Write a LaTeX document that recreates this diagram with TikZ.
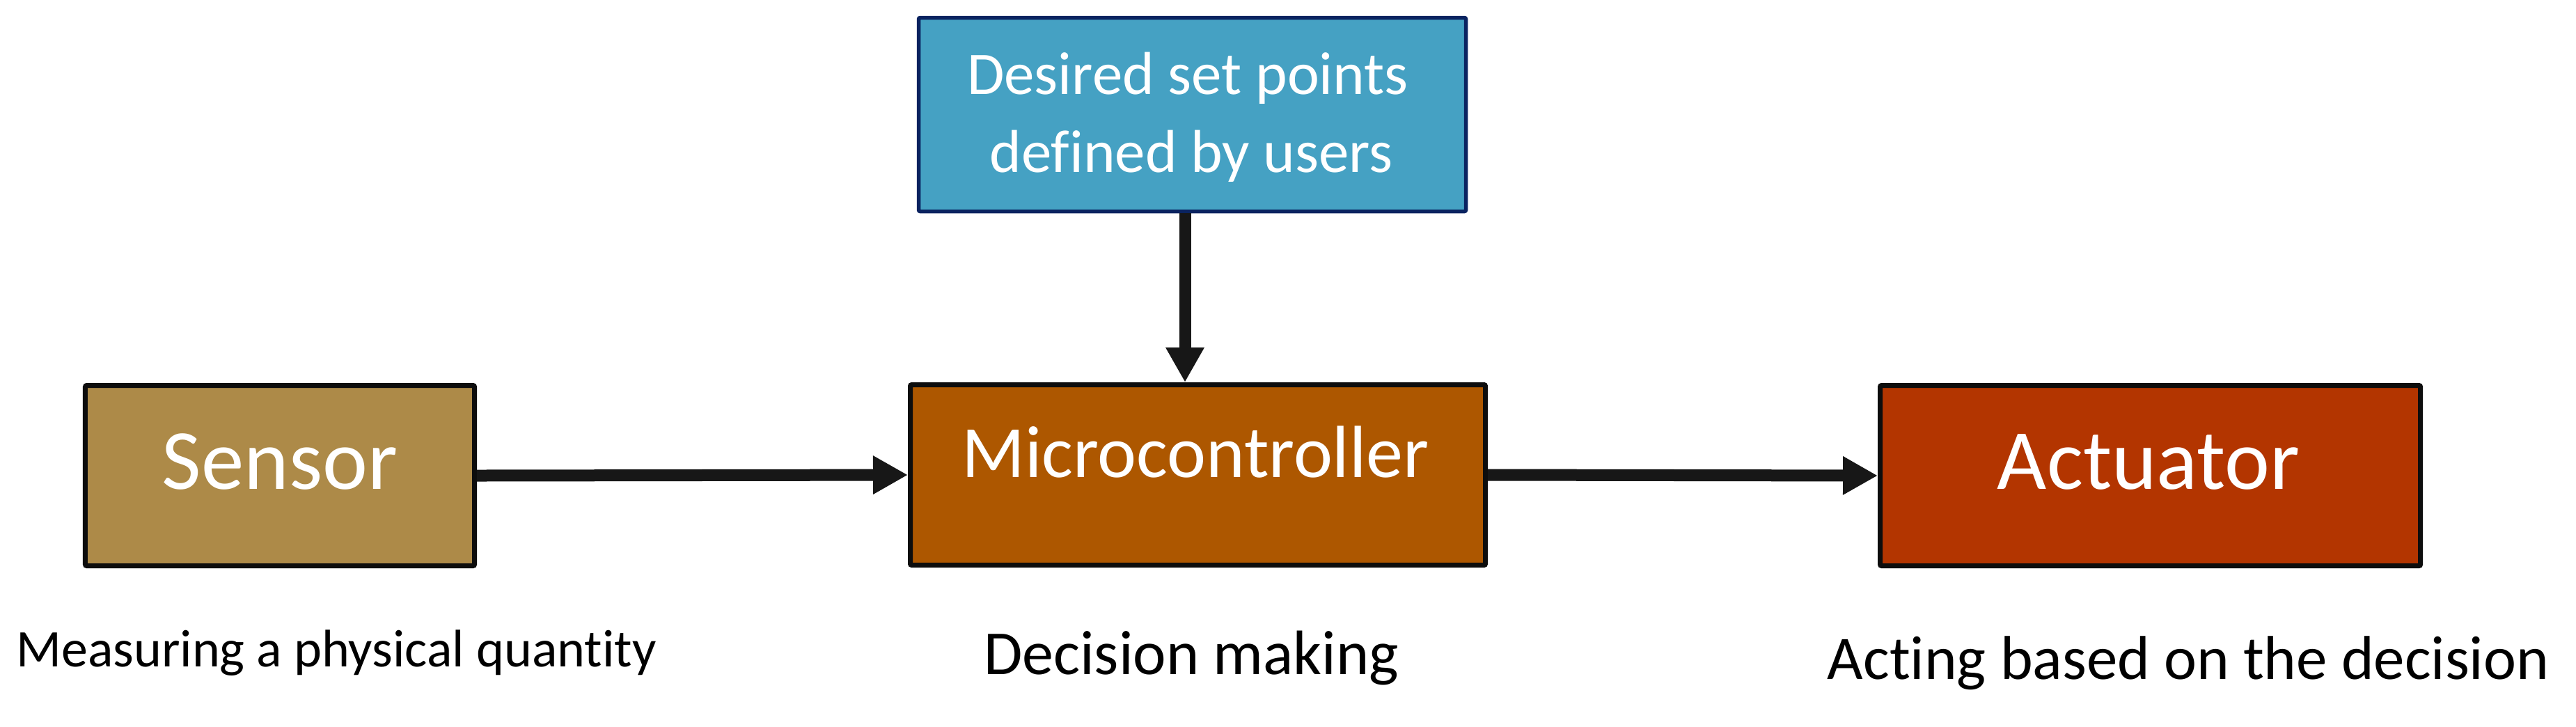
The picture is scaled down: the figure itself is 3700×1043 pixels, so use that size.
\documentclass[tikz,border=0pt]{standalone}
\usepackage{fontspec}
\setmainfont{Carlito}[Ligatures={NoCommon}]
\usetikzlibrary{arrows.meta}
\definecolor{sensorfill}{RGB}{173,138,72}
\definecolor{microfill}{RGB}{173,87,0}
\definecolor{actfill}{RGB}{179,53,0}
\definecolor{bluefill}{RGB}{69,161,195}
\definecolor{navy}{RGB}{10,35,96}
\definecolor{boxline}{RGB}{13,13,13}
\definecolor{arrowcol}{RGB}{23,23,23}
\tikzset{
  blockbox/.style={draw=boxline, line width=1.4pt, rounded corners=0.4pt, inner sep=0pt, minimum height=51.8pt},
  inlbl/.style={anchor=base, text=white, inner sep=0pt},
  caption/.style={anchor=base, text=black, inner sep=0pt},
  flow/.style={draw=arrowcol, line width=3.4pt, -{Triangle[length=10pt,width=10.4pt]}},
}
\begin{document}
\begin{tikzpicture}[x=0.2pt,y=-0.2pt]
\useasboundingbox (0,0) rectangle (3700,1043);
% boxes
\node[blockbox, fill=sensorfill, minimum width=111.8pt] (sensor) at (402,683) {};
\node[blockbox, fill=microfill, minimum width=165.2pt] (micro) at (1720.5,682) {};
\node[blockbox, fill=actfill, minimum width=155.2pt] (act) at (3088.5,683) {};
\node[draw=navy, line width=1.1pt, rounded corners=0.4pt, fill=bluefill, inner sep=0pt, minimum width=157.2pt, minimum height=55.6pt] (setp) at (1712.5,164.5) {};
% labels inside
\node[inlbl, font=\fontsize{24.6pt}{29pt}\selectfont] (sensorlbl) at (402,702) {Sensor};
\node[inlbl, font=\fontsize{21.2pt}{25pt}\selectfont] (microlbl) at (1717,685) {Microcontroller};
\node[inlbl, font=\fontsize{24.6pt}{29pt}\selectfont] (actlbl) at (3086,702) {Actuator};
\node[inlbl, font=\fontsize{17.4pt}{22.4pt}\selectfont] (setl1) at (1706,135) {Desired set points};
\node[inlbl, font=\fontsize{17.4pt}{22.4pt}\selectfont] (setl2) at (1711,247) {defined by users};
% captions
\node[caption, font=\fontsize{15.2pt}{18pt}\selectfont] (cap1) at (483,957) {Measuring a physical quantity};
\node[caption, font=\fontsize{18pt}{21pt}\selectfont] (cap2) at (1711,968) {Decision making};
\node[caption, font=\fontsize{17.8pt}{21pt}\selectfont] (cap3) at (3143,975) {Acting based on the decision};
% arrows
\draw[flow] (sensor.east) -- (micro.west);
\draw[flow] (micro.east) -- (act.west);
\draw[flow] ([xshift=-2.1pt]setp.south) -- ([xshift=-2.1pt]setp.south |- micro.north);
\end{tikzpicture}
\end{document}
